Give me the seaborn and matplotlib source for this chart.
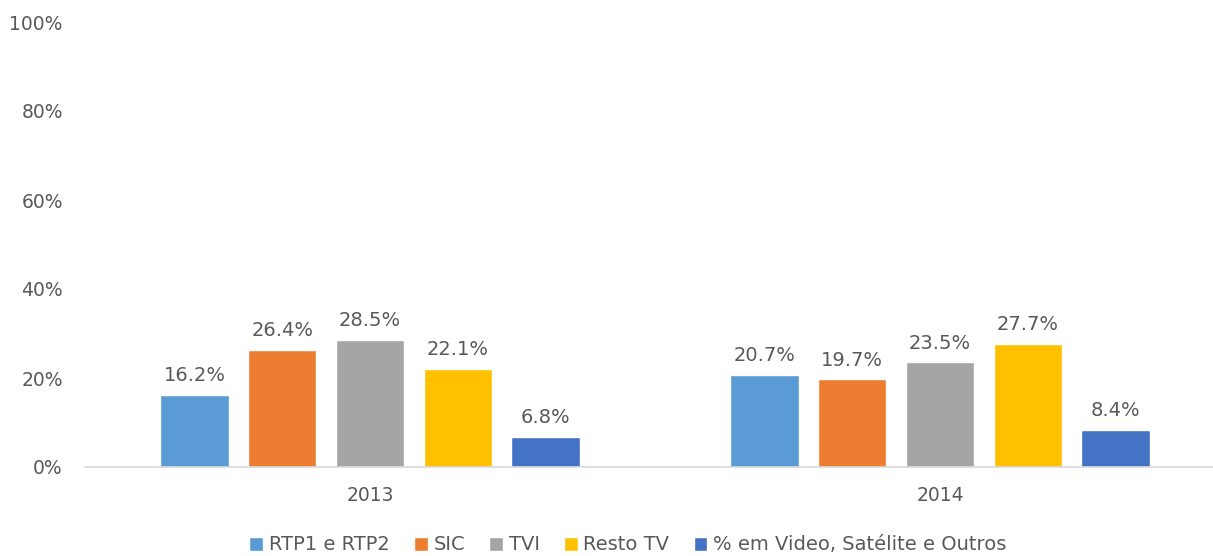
import pandas as pd
import numpy as np
import matplotlib.pyplot as plt
import seaborn as sns

# Data
years = ["2013", "2014"]
channels = ["RTP1 e RTP2", "SIC", "TVI", "Resto TV", "% em Video, Satélite e Outros"]
rtp = [16.2, 20.7]
sic = [26.4, 19.7]
tvi = [28.5, 23.5]
resto = [22.1, 27.7]
outros = [6.8, 8.4]
colors = ["#5B9BD5", "#ED7D31", "#A5A5A5", "#FFC000", "#4472C4"]

rows = []
for name, vals in zip(channels, [rtp, sic, tvi, resto, outros]):
    for y, v in zip(years, vals):
        rows.append({"Ano": y, "Canal": name, "Share": v})
df = pd.DataFrame(rows)

sns.set_style("white")
plt.rcParams['font.family'] = ['DejaVu Sans']
text_col = "#595959"

fig = plt.figure(figsize=(12.13, 5.56), dpi=100)
ax = fig.add_axes([85 / 1213, 89 / 556, 1140 / 1213, 445 / 556])

sns.barplot(data=df, x="Ano", y="Share", hue="Canal", hue_order=channels,
            palette=colors, width=0.77, gap=0.22, saturation=1, ax=ax,
            legend=True)

for cont in ax.containers:
    ax.bar_label(cont, labels=[f"{v:.1f}%" for v in cont.datavalues],
                 padding=7, fontsize=14, color=text_col)

ax.set_ylim(0, 100)
ax.set_xlim(-0.5, 1.5)
ax.set_yticks(np.arange(0, 101, 20))
ax.set_yticklabels([f"{t}%" for t in range(0, 101, 20)])
ax.tick_params(axis="y", length=0, pad=16, labelsize=13.5, labelcolor=text_col)
ax.tick_params(axis="x", length=0, pad=14, labelsize=13.5, labelcolor=text_col)
ax.set_xlabel("")
ax.set_ylabel("")
for s in ["top", "right", "left"]:
    ax.spines[s].set_visible(False)
ax.spines["bottom"].set_color("#D9D9D9")
ax.spines["bottom"].set_linewidth(1.2)

handles, labels = ax.get_legend_handles_labels()
ax.legend_.remove()
fig.legend(handles, labels, loc="center", bbox_to_anchor=(628 / 1213, 1 - 545 / 556),
           ncol=5, frameon=False, fontsize=14, handlelength=0.7, handleheight=0.7,
           handletextpad=0.3, columnspacing=1.25, labelcolor=text_col)

fig.savefig("out.png", dpi=100)
